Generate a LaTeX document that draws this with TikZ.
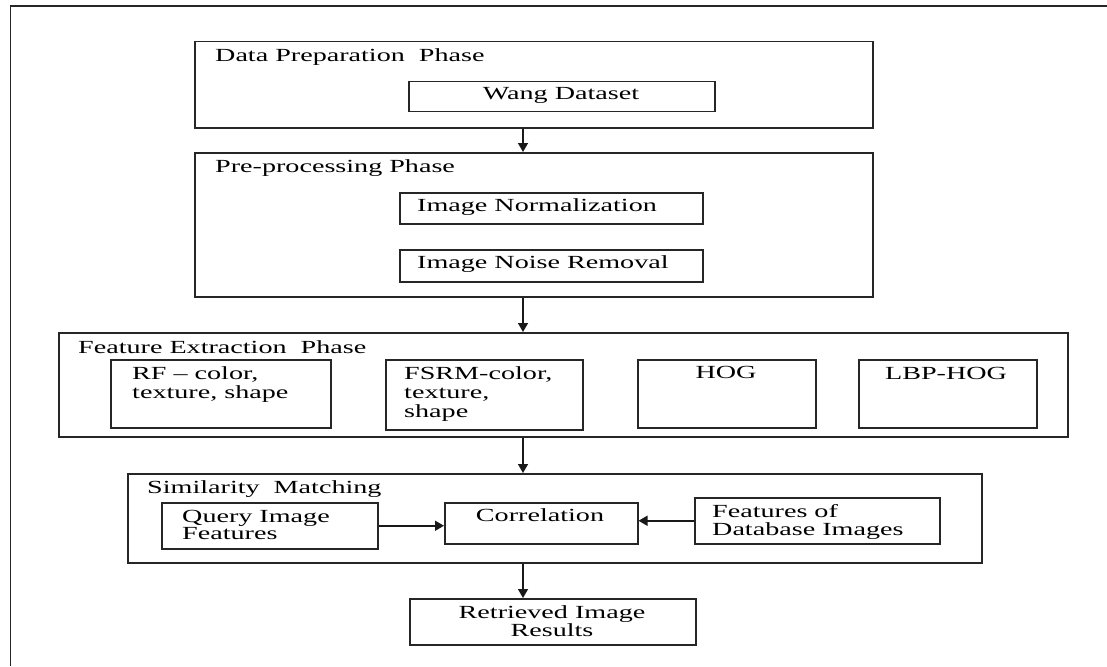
\documentclass[tikz,border=0pt]{standalone}
\usepackage{fontspec}
\setmainfont{Liberation Serif}[FakeStretch=1.52]
\usetikzlibrary{arrows.meta}
\newcommand\mytl[1]{\begin{tabular}[t]{@{}l@{}}#1\end{tabular}}
\newcommand\mytc[1]{\begin{tabular}[t]{@{}c@{}}#1\end{tabular}}
\begin{document}
\begin{tikzpicture}[x=1pt,y=-1pt,
  box/.style={draw=black!85, line width=1.5pt, inner sep=0pt, anchor=north west},
  lbl/.style={inner sep=0pt, font=\fontsize{18.5}{#1}\selectfont},
  lbl/.default=20,
  arr/.style={draw=black!90, line width=1.5pt, -{Triangle[length=9pt,width=10pt]}}]
\useasboundingbox (0,0) rectangle (1107,666);
\draw[line width=1.5pt, black!85] (1107,6) -- (10.5,6) -- (10.5,666);
% boxes
\node[box, minimum width=678pt, minimum height=86pt]  (dp)    at (194,41)  {};
\node[box, minimum width=306pt, minimum height=30pt]  (wang)  at (408,81)  {};
\node[box, minimum width=678pt, minimum height=144pt] (pp)    at (194,152) {};
\node[box, minimum width=303pt, minimum height=31pt]  (norm)  at (399,192) {};
\node[box, minimum width=303pt, minimum height=32pt]  (noise) at (399,249) {};
\node[box, minimum width=1009pt, minimum height=104pt] (fe)   at (58,332)  {};
\node[box, minimum width=220pt, minimum height=68pt]  (rf)    at (110,359) {};
\node[box, minimum width=197pt, minimum height=70pt]  (fsrm)  at (385,359) {};
\node[box, minimum width=178pt, minimum height=68pt]  (hog)   at (637,359) {};
\node[box, minimum width=178pt, minimum height=68pt]  (lbp)   at (858,359) {};
\node[box, minimum width=854pt, minimum height=89pt]  (sm)    at (127,473) {};
\node[box, minimum width=216pt, minimum height=46pt]  (query) at (161,502) {};
\node[box, minimum width=193pt, minimum height=41pt]  (corr)  at (444,502) {};
\node[box, minimum width=245pt, minimum height=46pt]  (db)    at (694,497) {};
\node[box, minimum width=286pt, minimum height=46pt]  (ret)   at (409,598) {};
% texts
\node[lbl, anchor=base west] (tdp) at (215,62) {Data Preparation\ \ Phase};
\node[lbl, anchor=base] (twang) at (561,100) {Wang Dataset};
\node[lbl, anchor=base west] (tpp) at (215,172) {Pre-processing Phase};
\node[lbl, anchor=base west] (tnorm) at (417,211) {Image Normalization};
\node[lbl, anchor=base west] (tnoise) at (417,268) {Image Noise Removal};
\node[lbl, anchor=base west] (tfe) at (78,353) {Feature Extraction\ \ Phase};
\node[lbl=19, anchor=base west] (trf) at (132,379) {\mytl{RF – color,\\texture, shape}};
\node[lbl=19, anchor=base west] (tfsrm) at (404,379) {\mytl{FSRM-color,\\texture,\\shape}};
\node[lbl, anchor=base] (thog) at (726,378) {HOG};
\node[lbl, anchor=base] (tlbp) at (946,379) {LBP-HOG};
\node[lbl, anchor=base west] (tsm) at (147,493) {Similarity\ \ Matching};
\node[lbl=17.5, anchor=base west] (tquery) at (182,522) {\mytl{Query Image\\Features}};
\node[lbl, anchor=base] (tcorr) at (540,521) {Correlation};
\node[lbl=18, anchor=base west] (tdb) at (712,517) {\mytl{Features of\\Database Images}};
\node[lbl=18.5, anchor=base] (tret) at (552,618) {\mytc{Retrieved Image\\Results}};
% connectors
\coordinate (ax) at (523,0);
\draw[arr] (dp.south -| ax) -- (pp.north -| ax);
\draw[arr] (pp.south -| ax) -- (fe.north -| ax);
\draw[arr] (fe.south -| ax) -- (sm.north -| ax);
\draw[arr] (sm.south -| ax) -- (ret.north -| ax);
\draw[arr] (query.east) -- (query.east -| corr.west);
\draw[arr] (db.west) -- (db.west -| corr.east);
\end{tikzpicture}
\end{document}
